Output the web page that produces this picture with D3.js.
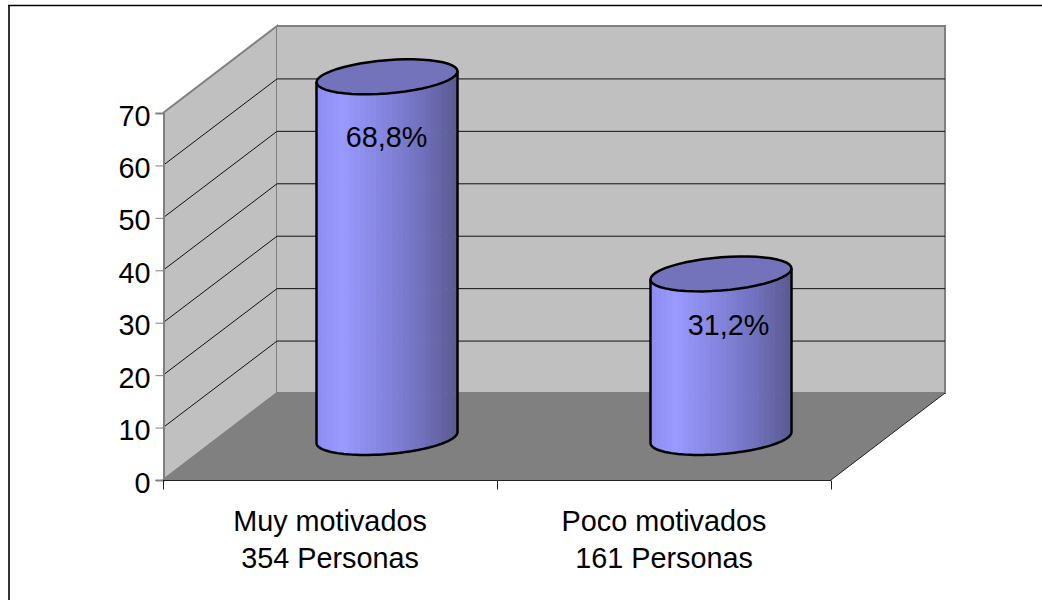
<!DOCTYPE html>
<html><head><meta charset="utf-8">
<script src="https://cdn.jsdelivr.net/npm/d3@7"></script>
<style>html,body{margin:0;padding:0;background:#fff}svg{display:block}text{font-family:"Liberation Sans",Arial,sans-serif;fill:#000}</style>
</head><body><svg id="c" width="1042" height="600"></svg>
<script>
const categories = ["Muy motivados", "Poco motivados"];
const counts = ["354 Personas", "161 Personas"];
const values = [68.8, 31.2];
const labels = ["68,8%", "31,2%"];
const yTicks = [0, 10, 20, 30, 40, 50, 60, 70];
const shadeStops = [[0, "#8c8cf0"], [0.18, "#9999ff"], [0.5, "#8383dd"], [0.75, "#7070bc"], [1, "#5a5a90"]];

const svg = d3.select("#c");
const depthX = 114, depthY = -87;
const fontSize = 28.8;
const y = d3.scaleLinear().domain([0, 70]).range([480, 113]);
const x = d3.scaleBand().domain(categories).range([163, 831]);
const x0 = x.range()[0], x1 = x.range()[1], y0 = y(0), yT = y(70);
const line = d3.line();

// frame
svg.append("line").attr("x1", 9).attr("x2", 9).attr("y1", 5).attr("y2", 600).attr("stroke", "#333").attr("stroke-width", 2);
svg.append("line").attr("x1", 8).attr("x2", 1042).attr("y1", 5.5).attr("y2", 5.5).attr("stroke", "#000").attr("stroke-width", 1.5);

// stepped shading
const defs = svg.append("defs");
const grad = defs.append("linearGradient").attr("id", "cyl");
const shade = d3.scaleLinear().domain(shadeStops.map(s => s[0])).range(shadeStops.map(s => s[1]));
const nStrips = 26;
d3.range(nStrips).forEach(k => {
  const col = shade((k + .5) / nStrips);
  grad.append("stop").attr("offset", k / nStrips).attr("stop-color", col);
  grad.append("stop").attr("offset", (k + 1) / nStrips).attr("stop-color", col);
});

// walls
svg.append("path").attr("d", line([[x0, y0], [x0 + depthX, y0 + depthY], [x0 + depthX, yT + depthY], [x0, yT]]))
  .attr("fill", "#c0c0c0").attr("stroke", "#808080").attr("stroke-width", 2);
svg.append("path").attr("d", line([[x0 + depthX, y0 + depthY], [x1 + depthX, y0 + depthY], [x1 + depthX, yT + depthY], [x0 + depthX, yT + depthY]]))
  .attr("fill", "#c0c0c0").attr("stroke", "#808080").attr("stroke-width", 2);
svg.append("path").attr("d", line([[x0, y0], [x0 + depthX, y0 + depthY], [x1 + depthX, y0 + depthY], [x1, y0]]) + "Z")
  .attr("fill", "#808080");
svg.append("path").attr("d", line([[x1, y0], [x1 + depthX, y0 + depthY]])).attr("stroke", "#222").attr("fill", "none");

// gridlines
const gridPath = t => line([[x0, y(t)], [x0 + depthX, y(t) + depthY + .5], [x1 + depthX, y(t) + depthY + .5]]);
yTicks.slice(1, -1).forEach(t => {
  svg.append("path").attr("fill", "none").attr("stroke", "#111").attr("stroke-width", 1).attr("d", gridPath(t));
});

// axes
const axisY = d3.axisLeft(y).tickValues(yTicks).tickSize(8).tickPadding(5);
const gy = svg.append("g").attr("transform", "translate(163.5,0)").call(axisY);
gy.selectAll("text").attr("font-size", fontSize).attr("dy", "0.42em");
gy.selectAll("line").attr("stroke", "#808080");
gy.select(".domain").attr("stroke", "#808080").attr("stroke-width", 2);
const gx = svg.append("g").attr("transform", `translate(0,${y0 + .5})`);
gx.append("path").attr("d", `M${x0},0H${x1}`).attr("stroke", "#222");
[x0, x0 + x.step(), x1].forEach(p => gx.append("line").attr("x1", p + .5).attr("x2", p + .5).attr("y1", 0).attr("y2", 9).attr("stroke", "#222"));

// cylinders
const rx = x.bandwidth() * 0.2111, ry = 16.6, skew = 5.5;
const baseLift = 42.5, shift = 57;
const labelNudge = [{dx: -0.5, dy: 70}, {dx: 7.5, dy: 61}];
const ell = (cx, cy, a, b) => d3.range(0, 49).map(i => {
  const an = a + (b - a) * i / 48;
  return [cx + rx * Math.cos(an), cy - skew * Math.cos(an) + ry * Math.sin(an)];
});
categories.forEach((c, i) => {
  const cx = x(c) + x.bandwidth() / 2 + shift;
  const yb = y(0) - baseLift, yt = y(values[i]) - baseLift;
  const bodyPts = [[cx - rx, yt + skew], ...ell(cx, yb, Math.PI, 0), [cx + rx, yt - skew]];
  const clipId = "body" + i;
  defs.append("clipPath").attr("id", clipId).append("path").attr("d", line(bodyPts) + "Z");
  svg.append("path").attr("d", line(bodyPts) + "Z").attr("fill", "url(#cyl)");
  // faint show-through of the gridlines and the floor edge
  const ghost = svg.append("g").attr("clip-path", `url(#${clipId})`);
  yTicks.slice(0, -1).forEach(t => {
    ghost.append("path").attr("fill", "none").attr("stroke", "#fff").attr("stroke-opacity", 0.07).attr("stroke-dasharray", "2 6")
      .attr("d", line([[x0 + depthX, y(t) + depthY + .5], [x1 + depthX, y(t) + depthY + .5]]));
  });
  svg.append("path").attr("d", line(bodyPts)).attr("fill", "none").attr("stroke", "#000").attr("stroke-width", 2.5).attr("stroke-linejoin", "round");
  svg.append("path").attr("d", line(ell(cx, yt, 0, 2 * Math.PI)) + "Z").attr("fill", "#7373bb").attr("stroke", "#000").attr("stroke-width", 2.5);
  svg.append("text").attr("x", cx + labelNudge[i].dx).attr("y", yt + labelNudge[i].dy).attr("text-anchor", "middle").attr("font-size", fontSize).text(labels[i]);
  const gl = svg.append("text").attr("text-anchor", "middle").attr("font-size", fontSize);
  gl.append("tspan").attr("x", x(c) + x.bandwidth() / 2).attr("y", 531).text(c);
  gl.append("tspan").attr("x", x(c) + x.bandwidth() / 2).attr("y", 568).text(counts[i]);
});
</script></body></html>
